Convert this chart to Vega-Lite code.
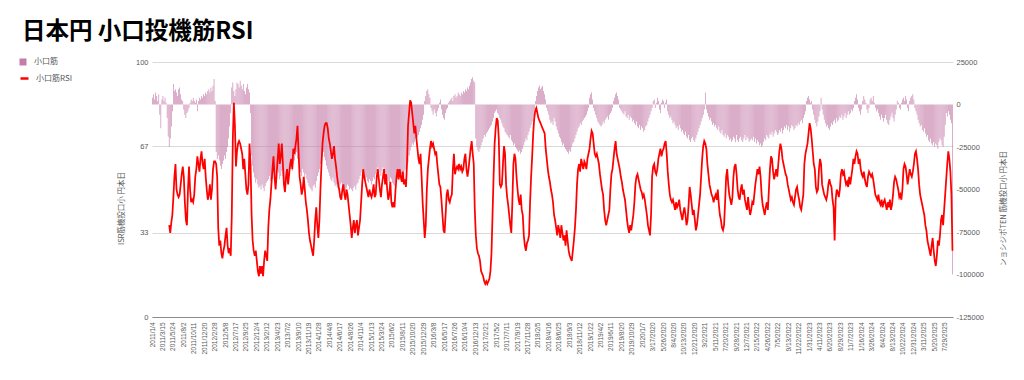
{
"$schema":"https://vega.github.io/schema/vega-lite/v6.json",
"width":801,"height":255,
"autosize":{"type":"none"},
"padding":{"left":152,"top":62,"right":71,"bottom":63},
"background":"white",
"config":{"view":{"stroke":null},"font":"Noto Sans CJK JP","axis":{"labelFont":"Liberation Sans"}},
"title":{"text":"日本円 小口投機筋RSI","anchor":"start","frame":"group","dx":-130,"dy":21,"offset":17,"baseline":"alphabetic","fontSize":23.5,"fontWeight":"bold","color":"#000000","font":"Noto Sans CJK JP"},
"data":{"values":[
{"d":"2011/1/4","n":4000},{"d":"2011/1/11","n":6000},{"d":"2011/1/18","n":3000},{"d":"2011/1/25","n":7000},{"d":"2011/2/1","n":5000},{"d":"2011/2/8","n":2000},{"d":"2011/2/15","n":6000},{"d":"2011/2/22","n":-6000},{"d":"2011/3/1","n":-14000},{"d":"2011/3/8","n":3000},{"d":"2011/3/15","n":5000},{"d":"2011/3/22","n":2000},{"d":"2011/3/29","n":4000},{"d":"2011/4/5","n":1000},{"d":"2011/4/12","n":-8000},{"d":"2011/4/19","n":-19000},
{"d":"2011/4/26","n":-25000,"r":36},{"d":"2011/5/3","n":-20000,"r":33},{"d":"2011/5/10","n":-13000,"r":37},{"d":"2011/5/17","n":-4000,"r":40},{"d":"2011/5/24","n":12000,"r":47},{"d":"2011/5/31","n":8000,"r":55},{"d":"2011/6/7","n":9000,"r":60},{"d":"2011/6/14","n":7000,"r":50},{"d":"2011/6/21","n":5000,"r":48},{"d":"2011/6/28","n":9000,"r":47},{"d":"2011/7/5","n":10000,"r":48},{"d":"2011/7/12","n":6000,"r":52},{"d":"2011/7/19","n":3000,"r":56},{"d":"2011/7/26","n":2000,"r":59},{"d":"2011/8/2","n":-3000,"r":55},{"d":"2011/8/9","n":-6000,"r":45},{"d":"2011/8/16","n":-8000,"r":38},{"d":"2011/8/23","n":-5000,"r":36},{"d":"2011/8/30","n":-4000,"r":50},{"d":"2011/9/6","n":-2000,"r":59},{"d":"2011/9/13","n":1000,"r":50},{"d":"2011/9/20","n":3000,"r":45},{"d":"2011/9/27","n":2000,"r":46},{"d":"2011/10/4","n":4000,"r":45},{"d":"2011/10/11","n":2000,"r":48},{"d":"2011/10/18","n":1000,"r":55},{"d":"2011/10/25","n":3000,"r":58},{"d":"2011/11/1","n":-4000,"r":63},{"d":"2011/11/8","n":2000,"r":60},{"d":"2011/11/15","n":4000,"r":57},{"d":"2011/11/22","n":3000,"r":62},{"d":"2011/11/29","n":5000,"r":65},{"d":"2011/12/6","n":4000,"r":60},{"d":"2011/12/13","n":6000,"r":58},{"d":"2011/12/20","n":5000,"r":62},{"d":"2011/12/27","n":7000,"r":55},
{"d":"2012/1/3","n":6000,"r":50},{"d":"2012/1/10","n":8000,"r":46},{"d":"2012/1/17","n":9000,"r":48},{"d":"2012/1/24","n":7000,"r":52},{"d":"2012/1/31","n":10000,"r":46},{"d":"2012/2/7","n":8000,"r":50},{"d":"2012/2/14","n":11000,"r":58},{"d":"2012/2/21","n":15000,"r":61},{"d":"2012/2/28","n":2000,"r":61},{"d":"2012/3/6","n":-28000,"r":60},{"d":"2012/3/13","n":-32000,"r":55},{"d":"2012/3/20","n":-30000,"r":35},{"d":"2012/3/27","n":-33000,"r":28},{"d":"2012/4/3","n":-36000,"r":30},{"d":"2012/4/10","n":-38000,"r":25},{"d":"2012/4/17","n":-35000,"r":23},{"d":"2012/4/24","n":-33000,"r":26},{"d":"2012/5/1","n":-30000,"r":28},{"d":"2012/5/8","n":-32000,"r":32},{"d":"2012/5/15","n":-28000,"r":35},{"d":"2012/5/22","n":-25000,"r":28},{"d":"2012/5/29","n":-20000,"r":25},{"d":"2012/6/5","n":-13000,"r":27},{"d":"2012/6/12","n":-5000,"r":24},{"d":"2012/6/19","n":10000,"r":40},{"d":"2012/6/26","n":13000,"r":70},{"d":"2012/7/3","n":8000,"r":84},{"d":"2012/7/10","n":5000,"r":75},{"d":"2012/7/17","n":9000,"r":59},{"d":"2012/7/24","n":13000,"r":65},{"d":"2012/7/31","n":12000,"r":68},{"d":"2012/8/7","n":10000,"r":69},{"d":"2012/8/14","n":14000,"r":68},{"d":"2012/8/21","n":11000,"r":66},{"d":"2012/8/28","n":9000,"r":64},{"d":"2012/9/4","n":12000,"r":58},{"d":"2012/9/11","n":8000,"r":62},{"d":"2012/9/18","n":6000,"r":56},{"d":"2012/9/25","n":10000,"r":50},{"d":"2012/10/2","n":12000,"r":48},{"d":"2012/10/9","n":9000,"r":52},{"d":"2012/10/16","n":7000,"r":68},{"d":"2012/10/23","n":-5000,"r":60},{"d":"2012/10/30","n":-30000,"r":40},{"d":"2012/11/6","n":-36000,"r":30},{"d":"2012/11/13","n":-40000,"r":26},{"d":"2012/11/20","n":-43000,"r":24},{"d":"2012/11/27","n":-46000,"r":26},{"d":"2012/12/4","n":-44000,"r":22},{"d":"2012/12/11","n":-47000,"r":18},{"d":"2012/12/18","n":-49000,"r":16},{"d":"2012/12/25","n":-48000,"r":20},
{"d":"2013/1/1","n":-50000,"r":17},{"d":"2013/1/8","n":-47000,"r":20},{"d":"2013/1/15","n":-49000,"r":16},{"d":"2013/1/22","n":-51000,"r":22},{"d":"2013/1/29","n":-48000,"r":26},{"d":"2013/2/5","n":-46000,"r":24},{"d":"2013/2/12","n":-45000,"r":22},{"d":"2013/2/19","n":-44000,"r":35},{"d":"2013/2/26","n":-42000,"r":42},{"d":"2013/3/5","n":-45000,"r":46},{"d":"2013/3/12","n":-47000,"r":52},{"d":"2013/3/19","n":-44000,"r":58},{"d":"2013/3/26","n":-40000,"r":63},{"d":"2013/4/2","n":-43000,"r":55},{"d":"2013/4/9","n":-45000,"r":50},{"d":"2013/4/16","n":-41000,"r":56},{"d":"2013/4/23","n":-38000,"r":62},{"d":"2013/4/30","n":-40000,"r":68},{"d":"2013/5/7","n":-44000,"r":60},{"d":"2013/5/14","n":-42000,"r":63},{"d":"2013/5/21","n":-39000,"r":68},{"d":"2013/5/28","n":-42000,"r":60},{"d":"2013/6/4","n":-45000,"r":52},{"d":"2013/6/11","n":-47000,"r":49},{"d":"2013/6/18","n":-44000,"r":55},{"d":"2013/6/25","n":-46000,"r":58},{"d":"2013/7/2","n":-43000,"r":52},{"d":"2013/7/9","n":-40000,"r":56},{"d":"2013/7/16","n":-38000,"r":60},{"d":"2013/7/23","n":-36000,"r":62},{"d":"2013/7/30","n":-39000,"r":58},{"d":"2013/8/6","n":-35000,"r":66},{"d":"2013/8/13","n":-33000,"r":64},{"d":"2013/8/20","n":-30000,"r":67},{"d":"2013/8/27","n":-28000,"r":70},{"d":"2013/9/3","n":-32000,"r":75},{"d":"2013/9/10","n":-35000,"r":65},{"d":"2013/9/17","n":-37000,"r":55},{"d":"2013/9/24","n":-40000,"r":52},{"d":"2013/10/1","n":-42000,"r":48},{"d":"2013/10/8","n":-38000,"r":50},{"d":"2013/10/15","n":-40000,"r":55},{"d":"2013/10/22","n":-43000,"r":50},{"d":"2013/10/29","n":-41000,"r":45},{"d":"2013/11/5","n":-44000,"r":42},{"d":"2013/11/12","n":-46000,"r":38},{"d":"2013/11/19","n":-48000,"r":33},{"d":"2013/11/26","n":-49000,"r":30},{"d":"2013/12/3","n":-50000,"r":28},{"d":"2013/12/10","n":-51000,"r":26},{"d":"2013/12/17","n":-48000,"r":24},{"d":"2013/12/24","n":-47000,"r":30},{"d":"2013/12/31","n":-49000,"r":38},
{"d":"2014/1/7","n":-45000,"r":43},{"d":"2014/1/14","n":-42000,"r":36},{"d":"2014/1/21","n":-40000,"r":31},{"d":"2014/1/28","n":-38000,"r":38},{"d":"2014/2/4","n":-35000,"r":50},{"d":"2014/2/11","n":-32000,"r":60},{"d":"2014/2/18","n":-30000,"r":68},{"d":"2014/2/25","n":-28000,"r":72},{"d":"2014/3/4","n":-31000,"r":75},{"d":"2014/3/11","n":-33000,"r":76},{"d":"2014/3/18","n":-36000,"r":76},{"d":"2014/3/25","n":-38000,"r":74},{"d":"2014/4/1","n":-40000,"r":70},{"d":"2014/4/8","n":-42000,"r":68},{"d":"2014/4/15","n":-44000,"r":65},{"d":"2014/4/22","n":-45000,"r":62},{"d":"2014/4/29","n":-43000,"r":64},{"d":"2014/5/6","n":-46000,"r":67},{"d":"2014/5/13","n":-48000,"r":62},{"d":"2014/5/20","n":-47000,"r":59},{"d":"2014/5/27","n":-49000,"r":55},{"d":"2014/6/3","n":-50000,"r":52},{"d":"2014/6/10","n":-48000,"r":50},{"d":"2014/6/17","n":-47000,"r":47},{"d":"2014/6/24","n":-46000,"r":46},{"d":"2014/7/1","n":-48000,"r":50},{"d":"2014/7/8","n":-49000,"r":52},{"d":"2014/7/15","n":-50000,"r":48},{"d":"2014/7/22","n":-51000,"r":46},{"d":"2014/7/29","n":-49000,"r":50},{"d":"2014/8/5","n":-47000,"r":48},{"d":"2014/8/12","n":-48000,"r":44},{"d":"2014/8/19","n":-50000,"r":40},{"d":"2014/8/26","n":-49000,"r":36},{"d":"2014/9/2","n":-50000,"r":31},{"d":"2014/9/9","n":-51000,"r":35},{"d":"2014/9/16","n":-49000,"r":38},{"d":"2014/9/23","n":-48000,"r":33},{"d":"2014/9/30","n":-50000,"r":36},{"d":"2014/10/7","n":-47000,"r":38},{"d":"2014/10/14","n":-46000,"r":32},{"d":"2014/10/21","n":-44000,"r":35},{"d":"2014/10/28","n":-42000,"r":38},{"d":"2014/11/4","n":-40000,"r":45},{"d":"2014/11/11","n":-38000,"r":52},{"d":"2014/11/18","n":-40000,"r":58},{"d":"2014/11/25","n":-42000,"r":55},{"d":"2014/12/2","n":-44000,"r":53},{"d":"2014/12/9","n":-43000,"r":51},{"d":"2014/12/16","n":-45000,"r":49},{"d":"2014/12/23","n":-46000,"r":47},{"d":"2014/12/30","n":-44000,"r":50},
{"d":"2015/1/6","n":-45000,"r":48},{"d":"2015/1/13","n":-47000,"r":47},{"d":"2015/1/20","n":-45000,"r":49},{"d":"2015/1/27","n":-43000,"r":52},{"d":"2015/2/3","n":-44000,"r":47},{"d":"2015/2/10","n":-41000,"r":48},{"d":"2015/2/17","n":-39000,"r":55},{"d":"2015/2/24","n":-37000,"r":58},{"d":"2015/3/3","n":-38000,"r":54},{"d":"2015/3/10","n":-40000,"r":50},{"d":"2015/3/17","n":-42000,"r":47},{"d":"2015/3/24","n":-39000,"r":52},{"d":"2015/3/31","n":-37000,"r":55},{"d":"2015/4/7","n":-38000,"r":58},{"d":"2015/4/14","n":-40000,"r":52},{"d":"2015/4/21","n":-42000,"r":56},{"d":"2015/4/28","n":-44000,"r":50},{"d":"2015/5/5","n":-45000,"r":46},{"d":"2015/5/12","n":-46000,"r":48},{"d":"2015/5/19","n":-43000,"r":53},{"d":"2015/5/26","n":-44000,"r":45},{"d":"2015/6/2","n":-46000,"r":43},{"d":"2015/6/9","n":-47000,"r":45},{"d":"2015/6/16","n":-48000,"r":43},{"d":"2015/6/23","n":-46000,"r":50},{"d":"2015/6/30","n":-45000,"r":55},{"d":"2015/7/7","n":-43000,"r":58},{"d":"2015/7/14","n":-44000,"r":54},{"d":"2015/7/21","n":-42000,"r":58},{"d":"2015/7/28","n":-43000,"r":55},{"d":"2015/8/4","n":-41000,"r":53},{"d":"2015/8/11","n":-40000,"r":57},{"d":"2015/8/18","n":-42000,"r":52},{"d":"2015/8/25","n":-39000,"r":54},{"d":"2015/9/1","n":-38000,"r":51},{"d":"2015/9/8","n":-36000,"r":60},{"d":"2015/9/15","n":-34000,"r":75},{"d":"2015/9/22","n":-30000,"r":80},{"d":"2015/9/29","n":-27000,"r":85},{"d":"2015/10/6","n":-25000,"r":84},{"d":"2015/10/13","n":-23000,"r":80},{"d":"2015/10/20","n":-24000,"r":76},{"d":"2015/10/27","n":-22000,"r":72},{"d":"2015/11/3","n":-20000,"r":75},{"d":"2015/11/10","n":-21000,"r":70},{"d":"2015/11/17","n":-19000,"r":66},{"d":"2015/11/24","n":-18000,"r":62},{"d":"2015/12/1","n":-16000,"r":60},{"d":"2015/12/8","n":-14000,"r":64},{"d":"2015/12/15","n":-12000,"r":55},{"d":"2015/12/22","n":-9000,"r":45},{"d":"2015/12/29","n":-6000,"r":38},
{"d":"2016/1/5","n":2000,"r":31},{"d":"2016/1/12","n":5000,"r":36},{"d":"2016/1/19","n":8000,"r":50},{"d":"2016/1/26","n":9000,"r":58},{"d":"2016/2/2","n":6000,"r":62},{"d":"2016/2/9","n":4000,"r":66},{"d":"2016/2/16","n":-2000,"r":69},{"d":"2016/2/23","n":-4000,"r":67},{"d":"2016/3/1","n":-6000,"r":68},{"d":"2016/3/8","n":-3000,"r":66},{"d":"2016/3/15","n":-5000,"r":64},{"d":"2016/3/22","n":-7000,"r":65},{"d":"2016/3/29","n":-4000,"r":60},{"d":"2016/4/5","n":-2000,"r":56},{"d":"2016/4/12","n":1000,"r":52},{"d":"2016/4/19","n":3000,"r":51},{"d":"2016/4/26","n":-3000,"r":46},{"d":"2016/5/3","n":-6000,"r":40},{"d":"2016/5/10","n":-8000,"r":34},{"d":"2016/5/17","n":-9000,"r":33},{"d":"2016/5/24","n":-5000,"r":40},{"d":"2016/5/31","n":-3000,"r":48},{"d":"2016/6/7","n":-2000,"r":50},{"d":"2016/6/14","n":1000,"r":46},{"d":"2016/6/21","n":2000,"r":45},{"d":"2016/6/28","n":3000,"r":47},{"d":"2016/7/5","n":4000,"r":48},{"d":"2016/7/12","n":2000,"r":58},{"d":"2016/7/19","n":5000,"r":64},{"d":"2016/7/26","n":6000,"r":56},{"d":"2016/8/2","n":4000,"r":58},{"d":"2016/8/9","n":5000,"r":59},{"d":"2016/8/16","n":7000,"r":58},{"d":"2016/8/23","n":6000,"r":60},{"d":"2016/8/30","n":5000,"r":58},{"d":"2016/9/6","n":7000,"r":59},{"d":"2016/9/13","n":6000,"r":57},{"d":"2016/9/20","n":8000,"r":58},{"d":"2016/9/27","n":7000,"r":62},{"d":"2016/10/4","n":9000,"r":64},{"d":"2016/10/11","n":8000,"r":58},{"d":"2016/10/18","n":10000,"r":55},{"d":"2016/10/25","n":9000,"r":58},{"d":"2016/11/1","n":11000,"r":62},{"d":"2016/11/8","n":13000,"r":66},{"d":"2016/11/15","n":15000,"r":69},{"d":"2016/11/22","n":16000,"r":64},{"d":"2016/11/29","n":14000,"r":60},{"d":"2016/12/6","n":13000,"r":42},{"d":"2016/12/13","n":-20000,"r":32},{"d":"2016/12/20","n":-25000,"r":27},{"d":"2016/12/27","n":-27000,"r":25},
{"d":"2017/1/3","n":-28000,"r":24},{"d":"2017/1/10","n":-26000,"r":22},{"d":"2017/1/17","n":-24000,"r":18},{"d":"2017/1/24","n":-22000,"r":17},{"d":"2017/1/31","n":-20000,"r":16},{"d":"2017/2/7","n":-18000,"r":14},{"d":"2017/2/14","n":-19000,"r":13},{"d":"2017/2/21","n":-17000,"r":14},{"d":"2017/2/28","n":-16000,"r":13},{"d":"2017/3/7","n":-15000,"r":14},{"d":"2017/3/14","n":-14000,"r":15},{"d":"2017/3/21","n":-13000,"r":18},{"d":"2017/3/28","n":-12000,"r":25},{"d":"2017/4/4","n":-10000,"r":40},{"d":"2017/4/11","n":-8000,"r":55},{"d":"2017/4/18","n":-5000,"r":68},{"d":"2017/4/25","n":-4000,"r":74},{"d":"2017/5/2","n":-3000,"r":78},{"d":"2017/5/9","n":-5000,"r":77},{"d":"2017/5/16","n":-6000,"r":70},{"d":"2017/5/23","n":-8000,"r":52},{"d":"2017/5/30","n":-9000,"r":51},{"d":"2017/6/6","n":-11000,"r":52},{"d":"2017/6/13","n":-13000,"r":60},{"d":"2017/6/20","n":-14000,"r":67},{"d":"2017/6/27","n":-16000,"r":64},{"d":"2017/7/4","n":-17000,"r":52},{"d":"2017/7/11","n":-18000,"r":47},{"d":"2017/7/18","n":-19000,"r":44},{"d":"2017/7/25","n":-20000,"r":40},{"d":"2017/8/1","n":-18000,"r":36},{"d":"2017/8/8","n":-21000,"r":33},{"d":"2017/8/15","n":-22000,"r":45},{"d":"2017/8/22","n":-24000,"r":60},{"d":"2017/8/29","n":-23000,"r":64},{"d":"2017/9/5","n":-25000,"r":62},{"d":"2017/9/12","n":-26000,"r":55},{"d":"2017/9/19","n":-27000,"r":50},{"d":"2017/9/26","n":-28000,"r":46},{"d":"2017/10/3","n":-27000,"r":44},{"d":"2017/10/10","n":-29000,"r":48},{"d":"2017/10/17","n":-28000,"r":42},{"d":"2017/10/24","n":-26000,"r":40},{"d":"2017/10/31","n":-24000,"r":32},{"d":"2017/11/7","n":-22000,"r":28},{"d":"2017/11/14","n":-20000,"r":26},{"d":"2017/11/21","n":-21000,"r":29},{"d":"2017/11/28","n":-18000,"r":30},{"d":"2017/12/5","n":-16000,"r":32},{"d":"2017/12/12","n":-14000,"r":45},{"d":"2017/12/19","n":-12000,"r":55},{"d":"2017/12/26","n":-10000,"r":63},
{"d":"2018/1/1","n":-7000,"r":72},{"d":"2018/1/8","n":-3000,"r":78},{"d":"2018/1/15","n":2000,"r":81},{"d":"2018/1/22","n":5000,"r":82},{"d":"2018/1/29","n":8000,"r":80},{"d":"2018/2/5","n":10000,"r":78},{"d":"2018/2/12","n":11000,"r":77},{"d":"2018/2/19","n":9000,"r":76},{"d":"2018/2/26","n":10000,"r":75},{"d":"2018/3/5","n":11000,"r":74},{"d":"2018/3/12","n":8000,"r":73},{"d":"2018/3/19","n":6000,"r":72},{"d":"2018/3/26","n":3000,"r":66},{"d":"2018/4/2","n":-2000,"r":62},{"d":"2018/4/9","n":-4000,"r":58},{"d":"2018/4/16","n":-6000,"r":55},{"d":"2018/4/23","n":-9000,"r":53},{"d":"2018/4/30","n":-11000,"r":50},{"d":"2018/5/7","n":-10000,"r":48},{"d":"2018/5/14","n":-12000,"r":45},{"d":"2018/5/21","n":-8000,"r":40},{"d":"2018/5/28","n":-10000,"r":38},{"d":"2018/6/4","n":-13000,"r":35},{"d":"2018/6/11","n":-15000,"r":32},{"d":"2018/6/18","n":-17000,"r":36},{"d":"2018/6/25","n":-19000,"r":34},{"d":"2018/7/2","n":-20000,"r":31},{"d":"2018/7/9","n":-22000,"r":36},{"d":"2018/7/16","n":-24000,"r":33},{"d":"2018/7/23","n":-23000,"r":30},{"d":"2018/7/30","n":-25000,"r":32},{"d":"2018/8/6","n":-26000,"r":28},{"d":"2018/8/13","n":-27000,"r":34},{"d":"2018/8/20","n":-28000,"r":30},{"d":"2018/8/27","n":-29000,"r":26},{"d":"2018/9/3","n":-27000,"r":24},{"d":"2018/9/10","n":-28000,"r":23},{"d":"2018/9/17","n":-25000,"r":22},{"d":"2018/9/24","n":-23000,"r":26},{"d":"2018/10/1","n":-22000,"r":30},{"d":"2018/10/8","n":-20000,"r":35},{"d":"2018/10/15","n":-18000,"r":42},{"d":"2018/10/22","n":-16000,"r":52},{"d":"2018/10/29","n":-14000,"r":58},{"d":"2018/11/5","n":-13000,"r":60},{"d":"2018/11/12","n":-11000,"r":57},{"d":"2018/11/19","n":-12000,"r":62},{"d":"2018/11/26","n":-10000,"r":60},{"d":"2018/12/3","n":-9000,"r":58},{"d":"2018/12/10","n":-8000,"r":61},{"d":"2018/12/17","n":-7000,"r":60},{"d":"2018/12/24","n":-6000,"r":58},
{"d":"2019/1/1","n":-4000,"r":62},{"d":"2019/1/8","n":-2000,"r":64},{"d":"2019/1/15","n":4000,"r":66},{"d":"2019/1/22","n":6000,"r":70},{"d":"2019/1/29","n":7000,"r":73},{"d":"2019/2/5","n":3000,"r":72},{"d":"2019/2/12","n":-2000,"r":68},{"d":"2019/2/19","n":-4000,"r":64},{"d":"2019/2/26","n":-6000,"r":63},{"d":"2019/3/5","n":-8000,"r":64},{"d":"2019/3/12","n":-10000,"r":62},{"d":"2019/3/19","n":-11000,"r":60},{"d":"2019/3/26","n":-12000,"r":56},{"d":"2019/4/2","n":-13000,"r":53},{"d":"2019/4/9","n":-12000,"r":50},{"d":"2019/4/16","n":-10000,"r":48},{"d":"2019/4/23","n":-11000,"r":42},{"d":"2019/4/30","n":-9000,"r":38},{"d":"2019/5/7","n":-8000,"r":36},{"d":"2019/5/14","n":-7000,"r":38},{"d":"2019/5/21","n":-9000,"r":40},{"d":"2019/5/28","n":-6000,"r":42},{"d":"2019/6/4","n":-5000,"r":50},{"d":"2019/6/11","n":-4000,"r":56},{"d":"2019/6/18","n":-2000,"r":58},{"d":"2019/6/25","n":2000,"r":62},{"d":"2019/7/2","n":4000,"r":66},{"d":"2019/7/9","n":6000,"r":69},{"d":"2019/7/16","n":7000,"r":64},{"d":"2019/7/23","n":5000,"r":62},{"d":"2019/7/30","n":3000,"r":60},{"d":"2019/8/6","n":-2000,"r":58},{"d":"2019/8/13","n":-3000,"r":55},{"d":"2019/8/20","n":-4000,"r":53},{"d":"2019/8/27","n":-5000,"r":50},{"d":"2019/9/3","n":-6000,"r":48},{"d":"2019/9/10","n":-4000,"r":46},{"d":"2019/9/17","n":-7000,"r":42},{"d":"2019/9/24","n":-8000,"r":38},{"d":"2019/10/1","n":-6000,"r":35},{"d":"2019/10/8","n":-9000,"r":33},{"d":"2019/10/15","n":-7000,"r":36},{"d":"2019/10/22","n":-8000,"r":34},{"d":"2019/10/29","n":-10000,"r":37},{"d":"2019/11/5","n":-9000,"r":40},{"d":"2019/11/12","n":-11000,"r":45},{"d":"2019/11/19","n":-12000,"r":52},{"d":"2019/11/26","n":-10000,"r":55},{"d":"2019/12/3","n":-13000,"r":56},{"d":"2019/12/10","n":-14000,"r":54},{"d":"2019/12/17","n":-12000,"r":52},{"d":"2019/12/24","n":-15000,"r":50},{"d":"2019/12/31","n":-13000,"r":49},
{"d":"2020/1/7","n":-14000,"r":47},{"d":"1/14/2020","n":-16000,"r":48},{"d":"1/21/2020","n":-15000,"r":46},{"d":"1/28/2020","n":-13000,"r":43},{"d":"2/4/2020","n":-12000,"r":40},{"d":"2/11/2020","n":-10000,"r":36},{"d":"2/18/2020","n":-8000,"r":34},{"d":"2/25/2020","n":-6000,"r":32},{"d":"3/3/2020","n":-4000,"r":40},{"d":"3/10/2020","n":-2000,"r":55},{"d":"3/17/2020","n":2000,"r":59},{"d":"3/24/2020","n":3000,"r":60},{"d":"3/31/2020","n":-2000,"r":57},{"d":"4/7/2020","n":1000,"r":56},{"d":"4/14/2020","n":4000,"r":58},{"d":"4/21/2020","n":2000,"r":62},{"d":"4/28/2020","n":-3000,"r":64},{"d":"5/5/2020","n":-5000,"r":66},{"d":"5/12/2020","n":1000,"r":63},{"d":"5/19/2020","n":3000,"r":65},{"d":"5/26/2020","n":2000,"r":66},{"d":"6/2/2020","n":-2000,"r":68},{"d":"6/9/2020","n":1000,"r":69},{"d":"6/16/2020","n":3000,"r":64},{"d":"6/23/2020","n":-4000,"r":57},{"d":"6/30/2020","n":-6000,"r":52},{"d":"7/7/2020","n":-8000,"r":48},{"d":"7/14/2020","n":-7000,"r":46},{"d":"7/21/2020","n":-9000,"r":45},{"d":"7/28/2020","n":-11000,"r":46},{"d":"8/4/2020","n":-10000,"r":44},{"d":"8/11/2020","n":-12000,"r":42},{"d":"8/18/2020","n":-14000,"r":45},{"d":"8/25/2020","n":-13000,"r":43},{"d":"9/1/2020","n":-15000,"r":44},{"d":"9/8/2020","n":-12000,"r":46},{"d":"9/15/2020","n":-14000,"r":42},{"d":"9/22/2020","n":-16000,"r":40},{"d":"9/29/2020","n":-15000,"r":38},{"d":"10/6/2020","n":-17000,"r":41},{"d":"10/13/2020","n":-18000,"r":43},{"d":"10/20/2020","n":-16000,"r":40},{"d":"10/27/2020","n":-19000,"r":36},{"d":"11/3/2020","n":-20000,"r":38},{"d":"11/10/2020","n":-18000,"r":44},{"d":"11/17/2020","n":-21000,"r":51},{"d":"11/24/2020","n":-22000,"r":48},{"d":"12/1/2020","n":-20000,"r":44},{"d":"12/8/2020","n":-19000,"r":40},{"d":"12/15/2020","n":-21000,"r":42},{"d":"12/21/2020","n":-22000,"r":38},{"d":"12/29/2020","n":-20000,"r":34},
{"d":"1/5/2021","n":-18000,"r":36},{"d":"1/12/2021","n":-16000,"r":40},{"d":"1/19/2021","n":-14000,"r":44},{"d":"1/26/2021","n":-12000,"r":48},{"d":"2/2/2021","n":-10000,"r":55},{"d":"2/9/2021","n":-8000,"r":62},{"d":"2/16/2021","n":-6000,"r":67},{"d":"2/23/2021","n":-3000,"r":69},{"d":"3/2/2021","n":7000,"r":68},{"d":"3/9/2021","n":-3000,"r":66},{"d":"3/16/2021","n":-5000,"r":60},{"d":"3/23/2021","n":-7000,"r":56},{"d":"3/30/2021","n":-9000,"r":52},{"d":"4/6/2021","n":-8000,"r":50},{"d":"4/13/2021","n":-10000,"r":48},{"d":"4/20/2021","n":-12000,"r":47},{"d":"4/27/2021","n":-11000,"r":45},{"d":"5/4/2021","n":-13000,"r":47},{"d":"5/11/2021","n":-12000,"r":48},{"d":"5/18/2021","n":-14000,"r":46},{"d":"5/25/2021","n":-15000,"r":50},{"d":"6/1/2021","n":-13000,"r":44},{"d":"6/8/2021","n":-16000,"r":40},{"d":"6/15/2021","n":-17000,"r":38},{"d":"6/22/2021","n":-15000,"r":35},{"d":"6/29/2021","n":-18000,"r":34},{"d":"7/6/2021","n":-19000,"r":36},{"d":"7/13/2021","n":-17000,"r":45},{"d":"7/20/2021","n":-20000,"r":55},{"d":"7/27/2021","n":-18000,"r":58},{"d":"8/3/2021","n":-19000,"r":52},{"d":"8/10/2021","n":-21000,"r":48},{"d":"8/17/2021","n":-20000,"r":46},{"d":"8/24/2021","n":-22000,"r":44},{"d":"8/31/2021","n":-21000,"r":47},{"d":"9/7/2021","n":-19000,"r":55},{"d":"9/14/2021","n":-20000,"r":59},{"d":"9/21/2021","n":-22000,"r":60},{"d":"9/28/2021","n":-18000,"r":56},{"d":"10/5/2021","n":-21000,"r":50},{"d":"10/12/2021","n":-22000,"r":47},{"d":"10/19/2021","n":-20000,"r":46},{"d":"10/26/2021","n":-19000,"r":50},{"d":"11/2/2021","n":-21000,"r":52},{"d":"11/9/2021","n":-22000,"r":48},{"d":"11/16/2021","n":-20000,"r":50},{"d":"11/23/2021","n":-18000,"r":46},{"d":"11/30/2021","n":-21000,"r":44},{"d":"12/7/2021","n":-19000,"r":42},{"d":"12/14/2021","n":-20000,"r":47},{"d":"12/21/2021","n":-22000,"r":43},{"d":"12/28/2021","n":-21000,"r":40},
{"d":"1/4/2022","n":-20000,"r":42},{"d":"1/11/2022","n":-21000,"r":45},{"d":"1/18/2022","n":-19000,"r":44},{"d":"1/25/2022","n":-22000,"r":48},{"d":"2/1/2022","n":-20000,"r":52},{"d":"2/8/2022","n":-23000,"r":55},{"d":"2/15/2022","n":-21000,"r":58},{"d":"2/22/2022","n":-22000,"r":56},{"d":"3/1/2022","n":-24000,"r":59},{"d":"3/8/2022","n":-23000,"r":55},{"d":"3/15/2022","n":-25000,"r":48},{"d":"3/22/2022","n":-24000,"r":44},{"d":"3/29/2022","n":-22000,"r":42},{"d":"4/5/2022","n":-20000,"r":40},{"d":"4/12/2022","n":-21000,"r":43},{"d":"4/19/2022","n":-18000,"r":45},{"d":"4/26/2022","n":-19000,"r":42},{"d":"5/3/2022","n":-20000,"r":50},{"d":"5/10/2022","n":-17000,"r":58},{"d":"5/17/2022","n":-18000,"r":63},{"d":"5/24/2022","n":-16000,"r":62},{"d":"5/31/2022","n":-19000,"r":57},{"d":"6/7/2022","n":-17000,"r":54},{"d":"6/14/2022","n":-15000,"r":56},{"d":"6/21/2022","n":-16000,"r":58},{"d":"6/28/2022","n":-18000,"r":55},{"d":"7/5/2022","n":-17000,"r":60},{"d":"7/12/2022","n":-15000,"r":65},{"d":"7/19/2022","n":-16000,"r":68},{"d":"7/26/2022","n":-14000,"r":66},{"d":"8/2/2022","n":-17000,"r":62},{"d":"8/9/2022","n":-15000,"r":60},{"d":"8/16/2022","n":-13000,"r":58},{"d":"8/23/2022","n":-14000,"r":56},{"d":"8/30/2022","n":-12000,"r":55},{"d":"9/6/2022","n":-15000,"r":52},{"d":"9/13/2022","n":-13000,"r":50},{"d":"9/20/2022","n":-16000,"r":48},{"d":"9/27/2022","n":-14000,"r":46},{"d":"10/4/2022","n":-12000,"r":47},{"d":"10/11/2022","n":-13000,"r":45},{"d":"10/18/2022","n":-15000,"r":44},{"d":"10/25/2022","n":-14000,"r":47},{"d":"11/1/2022","n":-12000,"r":50},{"d":"11/8/2022","n":-13000,"r":51},{"d":"11/15/2022","n":-11000,"r":48},{"d":"11/22/2022","n":-12000,"r":46},{"d":"11/29/2022","n":-10000,"r":43},{"d":"12/6/2022","n":-9000,"r":42},{"d":"12/13/2022","n":-11000,"r":45},{"d":"12/20/2022","n":-8000,"r":48},{"d":"12/27/2022","n":-6000,"r":60},
{"d":"1/3/2023","n":-4000,"r":64},{"d":"1/10/2023","n":2000,"r":66},{"d":"1/17/2023","n":4000,"r":68},{"d":"1/24/2023","n":5000,"r":72},{"d":"1/31/2023","n":3000,"r":76},{"d":"2/7/2023","n":1000,"r":74},{"d":"2/14/2023","n":2000,"r":70},{"d":"2/21/2023","n":-3000,"r":65},{"d":"2/28/2023","n":-6000,"r":60},{"d":"3/7/2023","n":-9000,"r":58},{"d":"3/14/2023","n":-11000,"r":51},{"d":"3/21/2023","n":-13000,"r":49},{"d":"3/28/2023","n":-10000,"r":50},{"d":"4/4/2023","n":-7000,"r":58},{"d":"4/11/2023","n":-4000,"r":62},{"d":"4/18/2023","n":4000,"r":60},{"d":"4/25/2023","n":-3000,"r":52},{"d":"5/2/2023","n":-6000,"r":50},{"d":"5/9/2023","n":-9000,"r":48},{"d":"5/16/2023","n":-11000,"r":47},{"d":"5/23/2023","n":-13000,"r":46},{"d":"5/30/2023","n":-12000,"r":48},{"d":"6/6/2023","n":-14000,"r":52},{"d":"6/13/2023","n":-15000,"r":54},{"d":"6/20/2023","n":-13000,"r":52},{"d":"6/27/2023","n":-11000,"r":51},{"d":"7/4/2023","n":-12000,"r":46},{"d":"7/11/2023","n":-10000,"r":43},{"d":"7/18/2023","n":-9000,"r":30},{"d":"7/25/2023","n":-11000,"r":46},{"d":"8/1/2023","n":-8000,"r":50},{"d":"8/8/2023","n":-10000,"r":49},{"d":"8/15/2023","n":-9000,"r":47},{"d":"8/22/2023","n":-7000,"r":50},{"d":"8/29/2023","n":-8000,"r":56},{"d":"9/5/2023","n":-6000,"r":58},{"d":"9/12/2023","n":-9000,"r":56},{"d":"9/19/2023","n":-7000,"r":57},{"d":"9/26/2023","n":-5000,"r":54},{"d":"10/3/2023","n":-8000,"r":52},{"d":"10/10/2023","n":-6000,"r":53},{"d":"10/17/2023","n":-4000,"r":51},{"d":"10/24/2023","n":-6000,"r":55},{"d":"10/31/2023","n":-5000,"r":52},{"d":"11/7/2023","n":-3000,"r":55},{"d":"11/14/2023","n":-4000,"r":58},{"d":"11/21/2023","n":-2000,"r":62},{"d":"11/28/2023","n":2000,"r":60},{"d":"12/5/2023","n":4000,"r":63},{"d":"12/12/2023","n":6000,"r":65},{"d":"12/19/2023","n":3000,"r":64},{"d":"12/26/2023","n":-2000,"r":60},
{"d":"1/2/2024","n":-4000,"r":62},{"d":"1/9/2024","n":-6000,"r":58},{"d":"1/16/2024","n":-3000,"r":56},{"d":"1/23/2024","n":2000,"r":55},{"d":"1/30/2024","n":5000,"r":57},{"d":"2/6/2024","n":3000,"r":54},{"d":"2/13/2024","n":1000,"r":52},{"d":"2/20/2024","n":-3000,"r":51},{"d":"2/27/2024","n":-5000,"r":55},{"d":"3/5/2024","n":-2000,"r":57},{"d":"3/12/2024","n":3000,"r":56},{"d":"3/19/2024","n":4000,"r":55},{"d":"3/26/2024","n":2000,"r":56},{"d":"4/2/2024","n":5000,"r":54},{"d":"4/9/2024","n":1000,"r":51},{"d":"4/16/2024","n":-2000,"r":48},{"d":"4/23/2024","n":-4000,"r":47},{"d":"4/30/2024","n":-3000,"r":46},{"d":"5/7/2024","n":-5000,"r":48},{"d":"5/14/2024","n":-7000,"r":45},{"d":"5/21/2024","n":-9000,"r":44},{"d":"5/28/2024","n":-6000,"r":46},{"d":"6/4/2024","n":-8000,"r":43},{"d":"6/11/2024","n":-10000,"r":45},{"d":"6/18/2024","n":-8000,"r":46},{"d":"6/25/2024","n":-6000,"r":44},{"d":"7/2/2024","n":-9000,"r":42},{"d":"7/9/2024","n":-11000,"r":45},{"d":"7/16/2024","n":-12000,"r":43},{"d":"7/23/2024","n":-9000,"r":46},{"d":"7/30/2024","n":-7000,"r":42},{"d":"8/6/2024","n":-5000,"r":44},{"d":"8/13/2024","n":-8000,"r":48},{"d":"8/20/2024","n":-10000,"r":53},{"d":"8/27/2024","n":-6000,"r":55},{"d":"9/3/2024","n":-3000,"r":54},{"d":"9/10/2024","n":2000,"r":52},{"d":"9/17/2024","n":1000,"r":50},{"d":"9/24/2024","n":-2000,"r":47},{"d":"10/1/2024","n":-3000,"r":48},{"d":"10/8/2024","n":1000,"r":46},{"d":"10/15/2024","n":3000,"r":50},{"d":"10/22/2024","n":4000,"r":58},{"d":"10/29/2024","n":2000,"r":60},{"d":"11/5/2024","n":5000,"r":59},{"d":"11/12/2024","n":3000,"r":56},{"d":"11/19/2024","n":-2000,"r":52},{"d":"11/26/2024","n":-4000,"r":55},{"d":"12/3/2024","n":2000,"r":58},{"d":"12/10/2024","n":4000,"r":56},{"d":"12/17/2024","n":5000,"r":55},{"d":"12/24/2024","n":6000,"r":57},{"d":"12/31/2024","n":3000,"r":60},
{"d":"1/7/2025","n":-2000,"r":64},{"d":"1/14/2025","n":-4000,"r":65},{"d":"1/21/2025","n":-6000,"r":62},{"d":"1/28/2025","n":-9000,"r":58},{"d":"2/4/2025","n":-11000,"r":52},{"d":"2/11/2025","n":-13000,"r":48},{"d":"2/18/2025","n":-12000,"r":46},{"d":"2/25/2025","n":-15000,"r":44},{"d":"3/4/2025","n":-16000,"r":42},{"d":"3/11/2025","n":-14000,"r":40},{"d":"3/18/2025","n":-17000,"r":36},{"d":"3/25/2025","n":-19000,"r":34},{"d":"4/1/2025","n":-18000,"r":30},{"d":"4/8/2025","n":-21000,"r":28},{"d":"4/15/2025","n":-22000,"r":26},{"d":"4/22/2025","n":-20000,"r":24},{"d":"4/29/2025","n":-23000,"r":28},{"d":"5/6/2025","n":-24000,"r":31},{"d":"5/13/2025","n":-22000,"r":26},{"d":"5/20/2025","n":-25000,"r":22},{"d":"5/27/2025","n":-23000,"r":20},{"d":"6/3/2025","n":-24000,"r":24},{"d":"6/10/2025","n":-26000,"r":30},{"d":"6/17/2025","n":-22000,"r":28},{"d":"6/24/2025","n":-20000,"r":32},{"d":"7/1/2025","n":-21000,"r":38},{"d":"7/8/2025","n":-24000,"r":40},{"d":"7/15/2025","n":-25000,"r":36},{"d":"7/22/2025","n":-19000,"r":42},{"d":"7/29/2025","n":-12000,"r":48},{"d":"8/5/2025","n":-5000,"r":54},{"d":"8/12/2025","n":-7000,"r":60},{"d":"8/19/2025","n":-4000,"r":65},{"d":"8/26/2025","n":-6000,"r":62},{"d":"9/2/2025","n":-9000,"r":57},{"d":"9/9/2025","n":-11000,"r":48},{"d":"9/16/2025","n":-100000,"r":26}
]},
"encoding":{"x":{"field":"d","type":"ordinal","sort":null,
"scale":{"type":"band","paddingInner":0.4,"paddingOuter":0.2},
"axis":{"title":null,"values":["2011/1/4","2011/3/15","2011/5/24","2011/8/2","2011/10/11","2011/12/20","2012/2/28","2012/5/8","2012/7/17","2012/9/25","2012/12/4","2013/2/12","2013/4/23","2013/7/2","2013/9/10","2013/11/19","2014/1/28","2014/4/8","2014/6/17","2014/8/26","2014/11/4","2015/1/13","2015/3/24","2015/6/2","2015/8/11","2015/10/20","2015/12/29","2016/3/8","2016/5/17","2016/7/26","2016/10/4","2016/12/13","2017/2/21","2017/5/2","2017/7/11","2017/9/19","2017/11/28","2018/2/5","2018/4/16","2018/6/25","2018/9/3","2018/11/12","2019/1/22","2019/4/2","2019/6/11","2019/8/20","2019/10/29","2020/1/7","3/17/2020","5/26/2020","8/4/2020","10/13/2020","12/21/2020","3/2/2021","5/11/2021","7/20/2021","9/28/2021","12/7/2021","2/15/2022","4/26/2022","7/5/2022","9/13/2022","11/22/2022","1/31/2023","4/11/2023","6/20/2023","8/29/2023","11/7/2023","1/16/2024","3/26/2024","6/4/2024","8/13/2024","10/22/2024","12/31/2024","3/11/2025","5/20/2025","7/29/2025"],
"labelAngle":-90,"labelFontSize":6.5,"labelColor":"#595959","labelPadding":5,"labelOverlap":false,"labelBound":false,"ticks":false,"domain":true,"domainColor":"#8c8c8c","domainWidth":1,"grid":false}}},
"layer":[
{"mark":{"type":"bar"},
"encoding":{
"y":{"field":"n","type":"quantitative","scale":{"domain":[-125000,25000],"nice":false,"zero":true},
"axis":{"orient":"right","values":[25000,0,-25000,-50000,-75000,-100000,-125000],"labelExpr":"'' + datum.value","labelFontSize":7.5,"labelColor":"#595959","labelPadding":3,"ticks":false,"domain":false,"grid":false,
"title":"ンョシジポTEN 筋機投口小 円本日","titleFont":"Noto Sans CJK JP","titleFontSize":7.5,"titleFontWeight":"normal","titleColor":"#595959","titleAngle":-90,"titleX":50,"titleY":146,"titleAlign":"center","titleBaseline":"middle"}},
"fill":{"datum":"小口筋","type":"nominal","scale":{"range":["#c47ca9"]},
"legend":{"orient":"none","legendX":-133,"legendY":-4,"title":null,"symbolType":"square","symbolSize":49,"symbolStrokeWidth":0,"labelFont":"Noto Sans CJK JP","labelFontSize":8,"labelColor":"#595959","labelOffset":7,"padding":0}}}},
{"mark":{"type":"line","strokeWidth":1.75},
"encoding":{
"y":{"field":"r","type":"quantitative","scale":{"domain":[0,100],"nice":false},
"axis":{"orient":"left","values":[0,33,67,100],"labelFontSize":7.5,"labelColor":"#595959","labelPadding":4,"ticks":false,"domain":false,"grid":true,"gridColor":"#d9d9d9","gridWidth":1,
"title":"ISR筋機投口小 円本日","titleFont":"Noto Sans CJK JP","titleFontSize":7.5,"titleFontWeight":"normal","titleColor":"#595959","titleAngle":-90,"titleX":-31,"titleY":146,"titleAlign":"center","titleBaseline":"middle"}},
"stroke":{"datum":"小口筋RSI","type":"nominal","scale":{"range":["#ff0000"]},
"legend":{"orient":"none","legendX":-133,"legendY":11,"title":null,"symbolType":"stroke","symbolSize":64,"symbolStrokeWidth":2.5,"labelFont":"Noto Sans CJK JP","labelFontSize":8,"labelColor":"#595959","labelOffset":6,"padding":0}}}}
],
"resolve":{"scale":{"y":"independent"}}
}
